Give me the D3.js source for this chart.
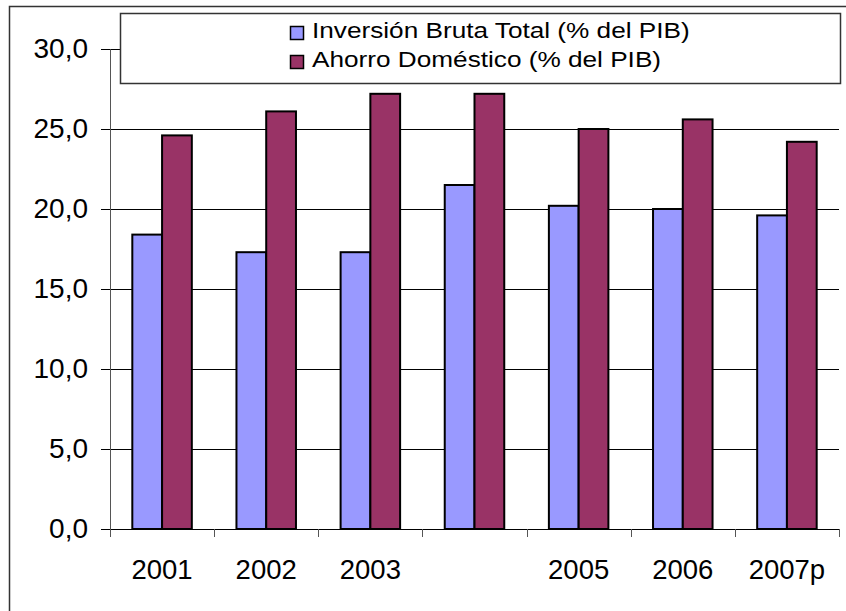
<!DOCTYPE html>
<html>
<head>
<meta charset="utf-8">
<script src="https://cdn.jsdelivr.net/npm/d3@7"></script>
<style>
  body { margin: 0; background: #fff; }
  svg { display: block; font-family: Arial, "Liberation Sans", sans-serif; }
</style>
</head>
<body>
<svg id="chart" width="846" height="611"></svg>
<script>
// Chart data
const categories = ['2001', '2002', '2003', '2004', '2005', '2006', '2007p'];
const tickLabels = ['2001', '2002', '2003', '', '2005', '2006', '2007p'];
const seriesNames = ['Inversión Bruta Total (% del PIB)', 'Ahorro Doméstico (% del PIB)'];
const inversion = [18.4, 17.3, 17.3, 21.5, 20.2, 20.0, 19.6];
const ahorro = [24.6, 26.1, 27.2, 27.2, 25.0, 25.6, 24.2];
const yTicks = [0, 5, 10, 15, 20, 25, 30];
const colors = ['#9999FF', '#993366'];

const svg = d3.select('#chart');
const plot = { left: 110, right: 839, top: 49, bottom: 529 };

// outer frame (only top/left fall inside the picture)
svg.append('rect')
    .attr('x', 9.5).attr('y', 6.5)
    .attr('width', 900).attr('height', 700)
    .attr('fill', 'none')
    .attr('stroke', '#333')
    .attr('stroke-width', 1.5);

const x = d3.scaleBand()
    .domain(categories)
    .range([plot.left, plot.right])
    .paddingInner(0)
    .paddingOuter(0);

// Excel style gap width 150% -> outer padding 0.75 of a bar on each side
const x1 = d3.scaleBand()
    .domain([0, 1])
    .range([0, x.bandwidth()])
    .paddingOuter(0.75)
    .paddingInner(0);

const y = d3.scaleLinear()
    .domain([0, 30])
    .range([plot.bottom, plot.top]);

// gridlines
svg.append('g')
    .selectAll('line')
    .data(yTicks.filter(d => d > 0))
    .join('line')
    .attr('x1', plot.left).attr('x2', plot.right)
    .attr('y1', d => Math.round(y(d)) + 0.5).attr('y2', d => Math.round(y(d)) + 0.5)
    .attr('stroke', '#000')
    .attr('stroke-width', 1);

// bars
const data = categories.map((c, i) => ({ cat: c, values: [inversion[i], ahorro[i]] }));
const groups = svg.append('g')
    .selectAll('g')
    .data(data)
    .join('g')
    .attr('transform', d => `translate(${x(d.cat)},0)`);

groups.selectAll('rect')
    .data(d => d.values.map((v, k) => ({ k, v })))
    .join('rect')
    .attr('x', d => x1(d.k))
    .attr('y', d => y(d.v))
    .attr('width', x1.bandwidth())
    .attr('height', d => y(0) - y(d.v))
    .attr('fill', d => colors[d.k])
    .attr('stroke', '#000')
    .attr('stroke-width', 2);

// y axis
const yAxis = svg.append('g')
    .attr('transform', `translate(${plot.left},0)`)
    .call(d3.axisLeft(y)
        .tickValues(yTicks)
        .tickSize(9)
        .tickPadding(13)
        .tickFormat(d => d3.format('.1f')(d).replace('.', ',')));
yAxis.select('.domain').attr('stroke', '#555').attr('stroke-width', 1);
yAxis.selectAll('.tick line').attr('stroke', '#000');
yAxis.selectAll('text')
    .attr('font-size', '28px')
    .attr('fill', '#000')
    .attr('font-family', 'Arial, "Liberation Sans", sans-serif');

// x axis line and boundary ticks
svg.append('line')
    .attr('x1', plot.left).attr('x2', plot.right)
    .attr('y1', plot.bottom + 0.5).attr('y2', plot.bottom + 0.5)
    .attr('stroke', '#000');

const bounds = categories.map(c => x(c)).concat([plot.right]);
svg.append('g')
    .selectAll('line')
    .data(bounds)
    .join('line')
    .attr('x1', d => Math.round(d) + 0.5).attr('x2', d => Math.round(d) + 0.5)
    .attr('y1', plot.bottom).attr('y2', plot.bottom + 8)
    .attr('stroke', '#555');

svg.append('g')
    .selectAll('text')
    .data(categories)
    .join('text')
    .attr('x', d => x(d) + x.bandwidth() / 2)
    .attr('y', 579)
    .attr('text-anchor', 'middle')
    .attr('font-size', '27.5px')
    .attr('fill', '#000')
    .text((d, i) => tickLabels[i]);

// legend
const legend = svg.append('g');
legend.append('rect')
    .attr('x', 120.5).attr('y', 13.5)
    .attr('width', 720).attr('height', 70)
    .attr('fill', '#fff')
    .attr('stroke', '#333')
    .attr('stroke-width', 1.5);

const legendRows = [38, 67];
seriesNames.forEach((name, i) => {
    legend.append('rect')
        .attr('x', 290.5).attr('y', legendRows[i] - 11.5)
        .attr('width', 13).attr('height', 13)
        .attr('fill', colors[i])
        .attr('stroke', '#000')
        .attr('stroke-width', 1.5);
    // legend text in the original is drawn a bit wider than normal
    legend.append('text')
        .attr('transform', `translate(312,${legendRows[i]}) scale(1.19,1)`)
        .attr('font-size', '22px')
        .attr('fill', '#000')
        .text(name);
});
</script>
</body>
</html>
